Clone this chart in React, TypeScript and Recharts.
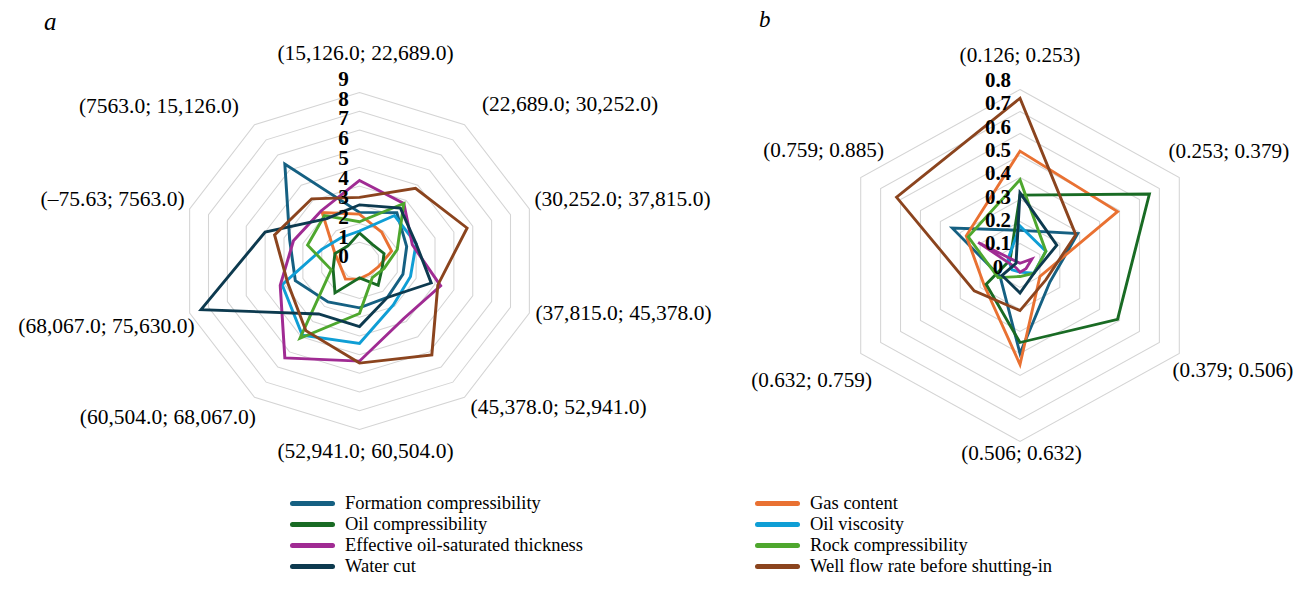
import React from "react";
import { PolarAngleAxis, PolarGrid, PolarRadiusAxis, Radar, RadarChart } from "recharts";

const SERIF = '"Liberation Serif", "Times New Roman", Times, serif';
const GRID = "#d4d4d4";

const SERIES_NAMES = [
  "Formation compressibility",
  "Gas content",
  "Oil compressibility",
  "Oil viscosity",
  "Effective oil-saturated thickness",
  "Rock compressibility",
  "Water cut",
  "Well flow rate before shutting-in",
];
const SERIES_KEYS = ["fc", "gc", "oc", "ov", "eot", "rc", "wc", "wfr"];
const SERIES_COLORS = ["#156082", "#E97132", "#196B24", "#0F9ED5", "#A02B93", "#4EA72E", "#0D3A4F", "#8B441E"];

// panel a
const A_CATEGORIES = [
  "(15,126.0; 22,689.0)",
  "(22,689.0; 30,252.0)",
  "(30,252.0; 37,815.0)",
  "(37,815.0; 45,378.0)",
  "(45,378.0; 52,941.0)",
  "(52,941.0; 60,504.0)",
  "(60,504.0; 68,067.0)",
  "(68,067.0; 75,630.0)",
  "(–75.63; 7563.0)",
  "(7563.0; 15,126.0)",
];
const A_TICKS = [0, 1, 2, 3, 4, 5, 6, 7, 8, 9];
const A_FORMATION = [2.6, 3.2, 2.5, 2.3, 2.4, 2.5, 2.7, 3.4, 3.7, 6.4];
const A_GAS = [2.5, 1.9, 1.7, 1.0, 0.85, 0.95, 1.2, 1.0, 1.3, 3.2];
const A_OIL_COMP = [1.5, 1.1, 1.3, 1.2, 1.6, 0.9, 2.1, 1.4, 1.3, 1.0];
const A_VISCOSITY = [1.6, 3.0, 3.0, 2.7, 2.9, 4.4, 4.9, 4.1, 2.0, 1.55];
const A_THICKNESS = [4.3, 3.8, 2.8, 4.3, 3.8, 5.35, 6.4, 4.2, 3.5, 3.3];
const A_ROCK = [2.1, 3.8, 2.0, 1.3, 1.1, 2.8, 5.1, 1.5, 2.75, 3.0];
const A_WATER = [3.0, 3.5, 3.0, 3.8, 2.4, 3.5, 3.5, 8.4, 5.0, 2.8];
const A_FLOW = [3.4, 4.8, 5.7, 4.15, 6.2, 5.45, 4.6, 3.8, 4.5, 4.1];

// panel b
const B_CATEGORIES = [
  "(0.126; 0.253)",
  "(0.253; 0.379)",
  "(0.379; 0.506)",
  "(0.506; 0.632)",
  "(0.632; 0.759)",
  "(0.759; 0.885)",
];
const B_TICKS = [0, 0.1, 0.2, 0.3, 0.4, 0.5, 0.6, 0.7, 0.8];
const B_FORMATION = [0.16, 0.29, 0.15, 0.4, 0.1, 0.34];
const B_GAS = [0.52, 0.49, 0.1, 0.45, 0.18, 0.27];
const B_OIL_COMP = [0.32, 0.65, 0.49, 0.35, 0.17, 0.05];
const B_VISCOSITY = [0.18, 0.13, 0.07, 0.03, 0.04, 0.06];
const B_THICKNESS = [0.01, 0.06, 0.03, 0.03, 0.02, 0.21];
const B_ROCK = [0.39, 0.13, 0.07, 0.05, 0.11, 0.26];
const B_WATER = [0.33, 0.185, 0.07, 0.125, 0.09, 0.02];
const B_FLOW = [0.76, 0.28, 0.13, 0.205, 0.23, 0.62];

function buildRows(categories: string[], series: number[][]) {
  return categories.map((axis, i) => {
    const row: Record<string, string | number> = { axis };
    SERIES_KEYS.forEach((k, s) => {
      row[k] = series[s][i];
    });
    return row;
  });
}

const aRows = buildRows(A_CATEGORIES, [A_FORMATION, A_GAS, A_OIL_COMP, A_VISCOSITY, A_THICKNESS, A_ROCK, A_WATER, A_FLOW]);
const bRows = buildRows(B_CATEGORIES, [B_FORMATION, B_GAS, B_OIL_COMP, B_VISCOSITY, B_THICKNESS, B_ROCK, B_WATER, B_FLOW]);

// geometry (the source picture is a little wider than tall, hence kx)
const A = { w: 720, h: 480, left: 0, cx: 359.5, cy: 261, r: 168.5, kx: 1.06 };
const B = { w: 595, h: 480, left: 720, cx: 300, cy: 265.5, r: 176, kx: 1.045 };

// label nudges in final pixels, relative to recharts' tick point
const A_LABEL_OFFSETS = [[6, -31], [12.5, -14], [-3, -7.5], [-2, -2], [1, 3], [6, 14], [6.5, 13], [13, 11], [3, -7.5], [-10.5, -11.5]];
const A_ANCHORS = ["middle", "start", "start", "start", "start", "middle", "end", "end", "end", "end"];
const B_LABEL_OFFSETS = [[0, -26.5], [-18, -22], [-14, 12.5], [1.5, 4], [18.5, 22.5], [30.5, -23.5]];
const B_ANCHORS = ["middle", "start", "start", "middle", "end", "end"];

function makeAngleTick(offsets: number[][], anchors: string[], kx: number, fontSize: number) {
  return function AngleTick(props: any) {
    const { x, y, payload } = props;
    const i = payload?.index ?? props.index ?? 0;
    const [dx, dy] = offsets[i] ?? [0, 0];
    return (
      <text
        x={x + dx / kx}
        y={y + dy}
        textAnchor={anchors[i] as any}
        dominantBaseline="central"
        fontFamily={SERIF}
        fontSize={fontSize}
        fill="#000"
      >
        {payload.value}
      </text>
    );
  };
}

function makeRadiusTick(
  cx: number,
  kx: number,
  dxFinal: number,
  step: number,
  base: number,
  spread: number,
  fontSize: number,
  fmt: (v: number) => string,
) {
  return function RadiusTick(props: any) {
    const { y, payload } = props;
    const n = Math.round(payload.value / step);
    return (
      <text
        x={cx + dxFinal / kx}
        y={y + base - spread * n}
        textAnchor="middle"
        dominantBaseline="central"
        fontFamily={SERIF}
        fontWeight="bold"
        fontSize={fontSize}
        fill="#000"
      >
        {fmt(payload.value)}
      </text>
    );
  };
}

function RadarPanel({
  geo,
  rows,
  ticks,
  angleTick,
  radiusTick,
}: {
  geo: typeof A;
  rows: Record<string, string | number>[];
  ticks: number[];
  angleTick: (p: any) => React.ReactElement;
  radiusTick: (p: any) => React.ReactElement;
}) {
  const max = ticks[ticks.length - 1];
  return (
    <div
      style={{
        position: "absolute",
        left: geo.left,
        top: 0,
        width: geo.w,
        height: geo.h,
        transform: `scaleX(${geo.kx})`,
        transformOrigin: `${geo.cx}px ${geo.cy}px`,
      }}
    >
      <RadarChart
        width={geo.w}
        height={geo.h}
        data={rows}
        cx={geo.cx}
        cy={geo.cy}
        outerRadius={geo.r}
        margin={{ top: 0, right: 0, bottom: 0, left: 0 }}
        style={{ overflow: "visible" }}
      >
        <PolarGrid gridType="polygon" radialLines={false} stroke={GRID} strokeWidth={1} />
        <PolarAngleAxis dataKey="axis" tick={angleTick} tickLine={false} axisLine={false} />
        {SERIES_KEYS.map((k, s) => (
          <Radar
            key={k}
            name={SERIES_NAMES[s]}
            dataKey={k}
            stroke={SERIES_COLORS[s]}
            strokeWidth={2.8}
            strokeLinejoin="miter"
            fill="none"
            fillOpacity={0}
            dot={false}
            isAnimationActive={false}
          />
        ))}
        <PolarRadiusAxis
          type="number"
          angle={90}
          domain={[0, max]}
          ticks={ticks}
          tickCount={ticks.length}
          allowDecimals
          allowDataOverflow
          axisLine={false}
          tickLine={false}
          tick={radiusTick}
        />
      </RadarChart>
    </div>
  );
}

const aAngleTick = makeAngleTick(A_LABEL_OFFSETS, A_ANCHORS, A.kx, 20.3);
const bAngleTick = makeAngleTick(B_LABEL_OFFSETS, B_ANCHORS, B.kx, 20.3);
const aRadiusTick = makeRadiusTick(A.cx, A.kx, -16, 1, -4.3, 1.01, 20, (v) => String(Math.round(v)));
const bRadiusTick = makeRadiusTick(B.cx, B.kx, -22, 0.1, 1.2, 1.3, 20, (v) =>
  Math.abs(v) < 1e-9 ? "0" : v.toFixed(1),
);

const LEGEND_COLS = [290, 755];
const LEGEND_ROWS = [503, 524, 545, 566];

export default function App() {
  return (
    <div
      style={{
        position: "fixed",
        left: 0,
        top: 0,
        width: 1315,
        height: 591,
        background: "#fff",
        fontFamily: SERIF,
        overflow: "hidden",
      }}
    >
      <RadarPanel geo={A} rows={aRows} ticks={A_TICKS} angleTick={aAngleTick} radiusTick={aRadiusTick} />
      <RadarPanel geo={B} rows={bRows} ticks={B_TICKS} angleTick={bAngleTick} radiusTick={bRadiusTick} />

      <svg width={1315} height={591} style={{ position: "absolute", left: 0, top: 0, pointerEvents: "none" }}>
        <text x={44} y={30} fontFamily={SERIF} fontStyle="italic" fontSize={25} fill="#000">
          a
        </text>
        <text x={759} y={26.5} fontFamily={SERIF} fontStyle="italic" fontSize={23} fill="#000">
          b
        </text>
      </svg>

      {SERIES_NAMES.map((name, i) => {
        const left = LEGEND_COLS[i % 2];
        const cyRow = LEGEND_ROWS[Math.floor(i / 2)];
        return (
          <div key={name} style={{ position: "absolute", left, top: cyRow - 11, height: 22, display: "flex", alignItems: "center" }}>
            <div style={{ width: 45, height: 5, borderRadius: 3, background: SERIES_COLORS[i] }} />
            <span style={{ marginLeft: 10, fontSize: 18.5, lineHeight: "22px", color: "#000", whiteSpace: "nowrap" }}>{name}</span>
          </div>
        );
      })}
    </div>
  );
}
